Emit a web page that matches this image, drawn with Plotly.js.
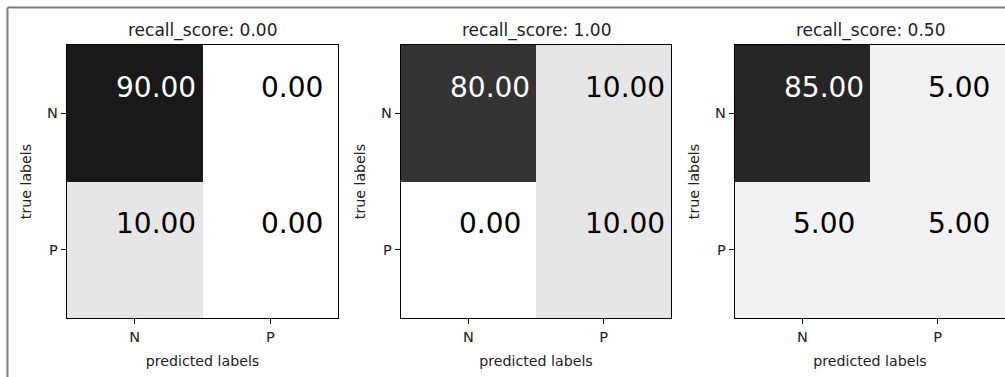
<!DOCTYPE html>
<html>
<head>
<meta charset="utf-8">
<script src="https://cdn.plot.ly/plotly-3.0.1.min.js"></script>
<style>html,body{margin:0;padding:0;background:#fff;}#chart{width:1005px;height:377px;}</style>
</head>
<body>
<div id="chart"></div>
<script>
// ---- data ----
const classLabels = ["N", "P"];
const scores = [0.00, 1.00, 0.50];
const matrix1 = [[90, 0], [10, 0]];
const matrix2 = [[80, 10], [0, 10]];
const matrix3 = [[85, 5], [5, 5]];
const matrices = [matrix1, matrix2, matrix3];
const xTitle = "predicted labels";
const yTitle = "true labels";

// ---- layout helpers ----
const W = 1005, H = 377;
const FONT = "DejaVu Sans";
const xDomains = [[67, 338], [401, 671], [735, 1005]];
const yDomainPx = [45, 318];
const yDom = [1 - yDomainPx[1] / H, 1 - yDomainPx[0] / H];

const traces = [];
const annotations = [];
const layout = {
  width: W, height: H,
  margin: {l: 0, r: 0, t: 0, b: 0},
  paper_bgcolor: "#ffffff",
  plot_bgcolor: "#ffffff",
  showlegend: false,
  font: {family: FONT, color: "#222"},
  shapes: [
    {type: "line", xref: "paper", yref: "paper", x0: 7.5 / W, x1: 1, y0: 1 - 7.5 / H, y1: 1 - 7.5 / H, line: {color: "#7d7d7d", width: 2}},
    {type: "line", xref: "paper", yref: "paper", x0: 7.5 / W, x1: 7.5 / W, y0: 0, y1: 1 - 7.5 / H, line: {color: "#7d7d7d", width: 2}}
  ],
  annotations: annotations
};

matrices.forEach((m, k) => {
  const s = k === 0 ? "" : String(k + 1);
  traces.push({
    type: "heatmap",
    z: m,
    x: [0, 1],
    y: [0, 1],
    xaxis: "x" + s,
    yaxis: "y" + s,
    zmin: 0, zmax: 100,
    colorscale: [[0, "#ffffff"], [1, "#000000"]],
    showscale: false,
    hoverinfo: "z"
  });
  const axCommon = {
    showline: true, mirror: true, linecolor: "#000", linewidth: 1.3,
    ticks: "outside", ticklen: 5, tickwidth: 1.2, tickcolor: "#000",
    tickvals: [0, 1], ticktext: classLabels,
    tickfont: {family: FONT, size: 14.5, color: "#222"},
    showgrid: false, zeroline: false, fixedrange: true
  };
  layout["xaxis" + s] = Object.assign({}, axCommon, {
    domain: [xDomains[k][0] / W, Math.min(1, xDomains[k][1] / W)],
    range: [-0.5, 1.5],
    anchor: "y" + s,
    title: {text: xTitle, font: {family: FONT, size: 14.2, color: "#222"}, standoff: 12}
  });
  layout["yaxis" + s] = Object.assign({}, axCommon, {
    domain: yDom,
    range: [1.5, -0.5],
    anchor: "x" + s,
    title: {text: yTitle, font: {family: FONT, size: 14.2, color: "#222"}, standoff: 12}
  });
  // subplot title
  annotations.push({
    xref: "paper", yref: "paper",
    x: (xDomains[k][0] + xDomains[k][1]) / 2 / W,
    y: 1 - 30 / H,
    xanchor: "center", yanchor: "middle",
    text: "recall_score: " + scores[k].toFixed(2),
    showarrow: false,
    font: {family: FONT, size: 17, color: "#222"}
  });
  // cell values
  m.forEach((row, i) => {
    row.forEach((v, j) => {
      annotations.push({
        xref: "x" + s, yref: "y" + s,
        x: j + 0.16, y: i - 0.19,
        xanchor: "center", yanchor: "middle",
        text: v.toFixed(2),
        showarrow: false,
        font: {family: FONT, size: 28, color: v > 50 ? "#ffffff" : "#000000"}
      });
    });
  });
});

Plotly.newPlot("chart", traces, layout, {displayModeBar: false, staticPlot: true});
</script>
</body>
</html>
